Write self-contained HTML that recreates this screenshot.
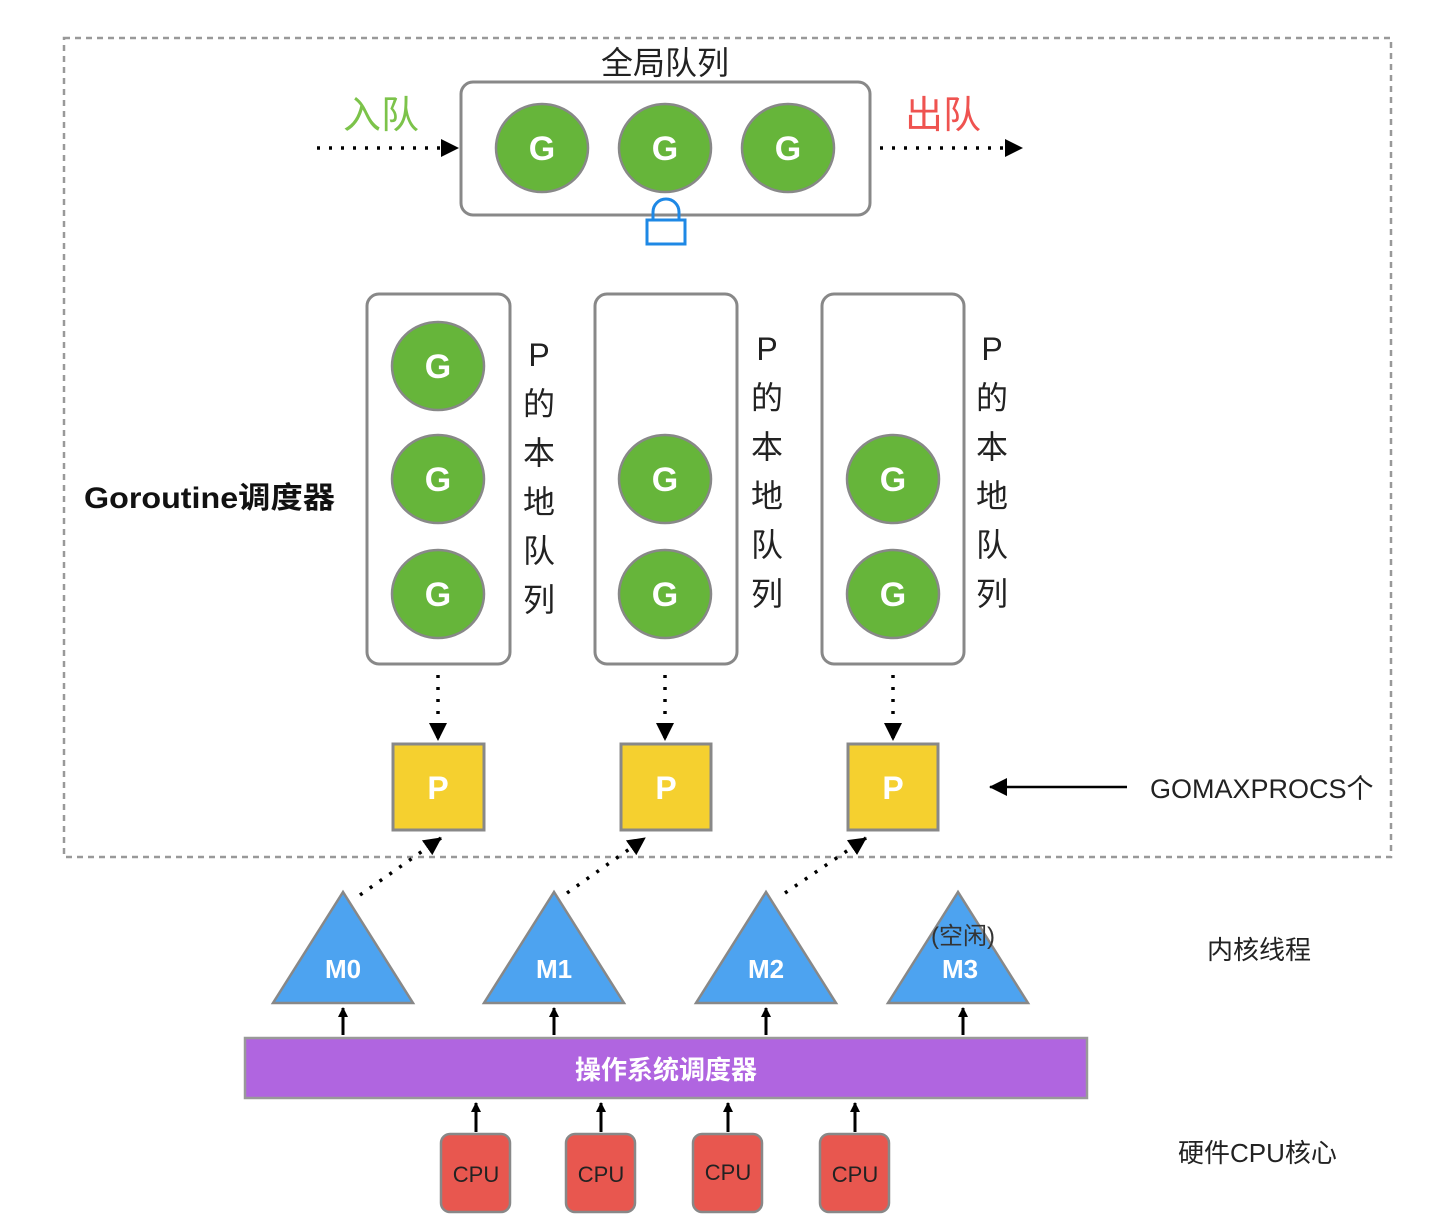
<!DOCTYPE html>
<html><head><meta charset="utf-8"><style>
html,body{margin:0;padding:0;background:#fff;}
svg{display:block;font-family:"Liberation Sans","Noto Sans CJK SC",sans-serif;}
</style></head><body>
<svg width="1444" height="1229" viewBox="0 0 1444 1229" xmlns="http://www.w3.org/2000/svg">
<defs>
<marker id="ah" markerWidth="10" markerHeight="10" refX="9" refY="5" orient="auto" markerUnits="userSpaceOnUse"><path d="M0,0 L10,5 L0,10 z" fill="#000"/></marker>
<marker id="ab" markerWidth="18" markerHeight="18" refX="17" refY="9" orient="auto" markerUnits="userSpaceOnUse"><path d="M0,0 L18,9 L0,18 z" fill="#000"/></marker>
</defs>
<rect x="64" y="38" width="1327" height="819" fill="none" stroke="#999" stroke-width="2.5" stroke-dasharray="6,5"/>
<text x="665" y="74" font-size="32" text-anchor="middle" fill="#222">全局队列</text>
<rect x="461" y="82" width="409" height="133" rx="12" fill="#fff" stroke="#888" stroke-width="3"/>
<g fill="#66b53a" stroke="#888" stroke-width="2.5">
<ellipse cx="542" cy="148" rx="46" ry="44"/><ellipse cx="665" cy="148" rx="46" ry="44"/><ellipse cx="788" cy="148" rx="46" ry="44"/>
<ellipse cx="438" cy="366" rx="46" ry="44"/><ellipse cx="438" cy="479" rx="46" ry="44"/><ellipse cx="438" cy="594" rx="46" ry="44"/>
<ellipse cx="665" cy="479" rx="46" ry="44"/><ellipse cx="665" cy="594" rx="46" ry="44"/>
<ellipse cx="893" cy="479" rx="46" ry="44"/><ellipse cx="893" cy="594" rx="46" ry="44"/>
</g>
<g fill="#fff" font-size="34" font-weight="bold" text-anchor="middle">
<text x="542" y="160">G</text><text x="665" y="160">G</text><text x="788" y="160">G</text>
<text x="438" y="378">G</text><text x="438" y="491">G</text><text x="438" y="606">G</text>
<text x="665" y="491">G</text><text x="665" y="606">G</text>
<text x="893" y="491">G</text><text x="893" y="606">G</text>
</g>
<path d="M653,220 V212 A13,13 0 0 1 679,212 V220" fill="none" stroke="#1e88e5" stroke-width="3"/>
<rect x="647" y="220" width="38" height="24" fill="#fff" stroke="#1e88e5" stroke-width="3"/>
<text x="343" y="128" font-size="38" fill="#7cc34a">入队</text>
<text x="905" y="128" font-size="38" fill="#ef5350">出队</text>
<line x1="317" y1="148" x2="458" y2="148" stroke="#000" stroke-width="3.5" stroke-dasharray="3,9" marker-end="url(#ab)"/>
<line x1="880" y1="148" x2="1022" y2="148" stroke="#000" stroke-width="3.5" stroke-dasharray="3,9" marker-end="url(#ab)"/>
<g fill="none" stroke="#888" stroke-width="3">
<rect x="367" y="294" width="143" height="370" rx="12"/>
<rect x="595" y="294" width="142" height="370" rx="12"/>
<rect x="822" y="294" width="142" height="370" rx="12"/>
</g>
<g font-size="32" fill="#222" text-anchor="middle">
<text x="539" y="366">P</text><text x="539" y="415">的</text><text x="539" y="464">本</text><text x="539" y="513">地</text><text x="539" y="562">队</text><text x="539" y="611">列</text>
<text x="767" y="360">P</text><text x="767" y="409">的</text><text x="767" y="458">本</text><text x="767" y="507">地</text><text x="767" y="556">队</text><text x="767" y="605">列</text>
<text x="992" y="360">P</text><text x="992" y="409">的</text><text x="992" y="458">本</text><text x="992" y="507">地</text><text x="992" y="556">队</text><text x="992" y="605">列</text>
</g>
<text x="84" y="508" font-size="30" font-weight="bold" fill="#111" textLength="251" lengthAdjust="spacingAndGlyphs">Goroutine调度器</text>
<g stroke="#000" stroke-width="3.5" stroke-dasharray="3,9">
<line x1="438" y1="675" x2="438" y2="740" marker-end="url(#ab)"/>
<line x1="665" y1="675" x2="665" y2="740" marker-end="url(#ab)"/>
<line x1="893" y1="675" x2="893" y2="740" marker-end="url(#ab)"/>
<line x1="360" y1="895" x2="441" y2="838" marker-end="url(#ab)"/>
<line x1="567" y1="893" x2="645" y2="838" marker-end="url(#ab)"/>
<line x1="785" y1="893" x2="866" y2="838" marker-end="url(#ab)"/>
</g>
<g fill="#f5d02f" stroke="#888" stroke-width="3">
<rect x="393" y="744" width="91" height="86"/><rect x="621" y="744" width="90" height="86"/><rect x="848" y="744" width="90" height="86"/>
</g>
<g fill="#fff" font-size="32" font-weight="bold" text-anchor="middle">
<text x="438" y="799">P</text><text x="666" y="799">P</text><text x="893" y="799">P</text>
</g>
<text x="1150" y="798" font-size="27" fill="#222">GOMAXPROCS个</text>
<line x1="1127" y1="787" x2="990" y2="787" stroke="#000" stroke-width="2.5" marker-end="url(#ab)"/>
<g fill="#4da3f0" stroke="#888" stroke-width="2.5">
<polygon points="343,892 273,1003 413,1003"/><polygon points="554,892 484,1003 624,1003"/>
<polygon points="766,892 696,1003 836,1003"/><polygon points="958,892 888,1003 1028,1003"/>
</g>
<g fill="#fff" font-size="26" font-weight="bold" text-anchor="middle">
<text x="343" y="978">M0</text><text x="554" y="978">M1</text><text x="766" y="978">M2</text><text x="960" y="978">M3</text>
</g>
<text x="963" y="944" font-size="24" fill="#333" text-anchor="middle">(空闲)</text>
<text x="1207" y="959" font-size="26" fill="#222">内核线程</text>
<g stroke="#000" stroke-width="3">
<line x1="343" y1="1035" x2="343" y2="1008" marker-end="url(#ah)"/>
<line x1="554" y1="1035" x2="554" y2="1008" marker-end="url(#ah)"/>
<line x1="766" y1="1035" x2="766" y2="1008" marker-end="url(#ah)"/>
<line x1="963" y1="1035" x2="963" y2="1008" marker-end="url(#ah)"/>
<line x1="476" y1="1132" x2="476" y2="1103" marker-end="url(#ah)"/>
<line x1="601" y1="1132" x2="601" y2="1103" marker-end="url(#ah)"/>
<line x1="728" y1="1132" x2="728" y2="1103" marker-end="url(#ah)"/>
<line x1="855" y1="1132" x2="855" y2="1103" marker-end="url(#ah)"/>
</g>
<rect x="245" y="1038" width="842" height="60" fill="#b065e0" stroke="#999" stroke-width="2.5"/>
<text x="666" y="1079" font-size="26" font-weight="bold" fill="#fff" text-anchor="middle">操作系统调度器</text>
<g fill="#e8574f" stroke="#888" stroke-width="2.5">
<rect x="441" y="1134" width="69" height="78" rx="9"/><rect x="566" y="1134" width="69" height="78" rx="9"/>
<rect x="693" y="1134" width="69" height="78" rx="9"/><rect x="820" y="1134" width="69" height="78" rx="9"/>
</g>
<g fill="#222" font-size="22" text-anchor="middle">
<text x="476" y="1182">CPU</text><text x="601" y="1182">CPU</text><text x="728" y="1180">CPU</text><text x="855" y="1182">CPU</text>
</g>
<text x="1178" y="1162" font-size="26" fill="#222">硬件CPU核心</text>
</svg>
</body></html>
